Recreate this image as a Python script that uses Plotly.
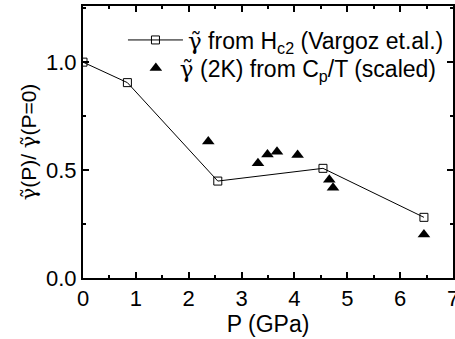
import plotly.graph_objects as go

# Hc2-derived gamma (Vargoz et al.)
p_hc2 = [0.0, 0.84, 2.55, 4.54, 6.45]
g_hc2 = [1.0, 0.905, 0.449, 0.508, 0.281]

# Cp/T-derived gamma at 2K (scaled)
p_cp = [2.37, 3.31, 3.49, 3.67, 4.06, 4.66, 4.73, 6.45]
g_cp = [0.632, 0.532, 0.572, 0.585, 0.57, 0.455, 0.418, 0.202]

x_ticks = [0, 1, 2, 3, 4, 5, 6, 7]
y_ticks = [0.0, 0.5, 1.0]

FONT = "Liberation Sans, Arial, sans-serif"
G = '<span style="font-family:DejaVu Serif">γ̃</span>'

fig = go.Figure()
fig.add_trace(go.Scatter(
    x=p_hc2, y=g_hc2, mode="lines+markers",
    name=G + " from H<sub>c2</sub> (Vargoz et.al.)",
    line=dict(color="black", width=1),
    marker=dict(symbol="square-open", size=8, color="black", line=dict(width=1)),
    legend="legend",
))
fig.add_trace(go.Scatter(
    x=p_cp, y=g_cp, mode="markers",
    name=G + " (2K) from C<sub>p</sub>/T (scaled)",
    marker=dict(symbol="triangle-up", size=11, color="black"),
    legend="legend2",
))

axis_common = dict(
    showline=True, linecolor="black", linewidth=2, mirror="allticks",
    ticks="inside", ticklen=6, tickwidth=2, tickcolor="black",
    showgrid=False, zeroline=False, ticklabeloverflow="allow",
    automargin=False,
    tickfont=dict(family=FONT, size=22, color="black"),
)
fig.update_xaxes(
    range=[0, 7], tickvals=x_ticks, ticktext=[str(v) for v in x_ticks],
    minor=dict(ticks="inside", ticklen=3, tickwidth=2, tickcolor="black", dtick=0.5, tick0=0),
    title=dict(text="P (GPa)", font=dict(family=FONT, size=23, color="black"), standoff=0),
    **axis_common,
)
fig.update_yaxes(
    range=[0, 1.26], tickvals=y_ticks, ticktext=["0.0", "0.5", "1.0"],
    minor=dict(ticks="inside", ticklen=3, tickwidth=2, tickcolor="black", dtick=0.25, tick0=0),
    title=dict(text=G + "(P)/ " + G + "(P=0)", font=dict(family=FONT, size=21, color="black"), standoff=4),
    **axis_common,
)
legend_common = dict(
    xanchor="left", yanchor="middle", bgcolor="rgba(0,0,0,0)",
    font=dict(family=FONT, size=23, color="black"),
)
fig.update_layout(
    width=455, height=339,
    margin=dict(l=83, r=2, t=6, b=61),
    plot_bgcolor="white", paper_bgcolor="white",
    font=dict(family=FONT, color="black"),
    showlegend=True,
    legend=dict(x=0.108, y=0.875, itemwidth=55, **legend_common),
    legend2=dict(x=0.132, y=0.772, itemwidth=38, **legend_common),
)
fig.write_html("out.html")
